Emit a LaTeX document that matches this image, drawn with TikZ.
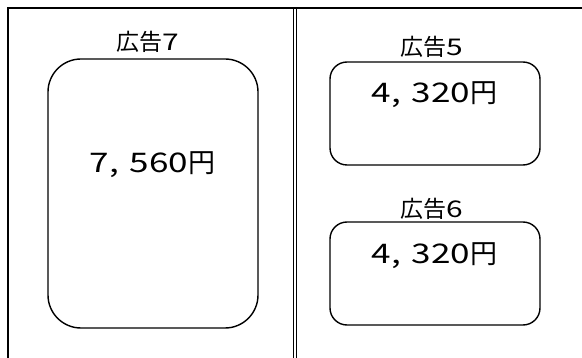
\documentclass[tikz,border=0pt]{standalone}
\usepackage{fontspec}
\newfontfamily\jpfont{Noto Sans CJK JP}
\newfontfamily\numfont[FakeStretch=1.3]{Noto Sans CJK JP}
\usetikzlibrary{positioning}

\tikzset{
  adbox/.style={draw, line width=1.4pt, minimum width=210pt, inner sep=0pt},
  adlabel/.style={font=\fontsize{23}{25}\selectfont, inner sep=0pt, anchor=base},
  adprice/.style={font=\fontsize{27}{30}\selectfont, inner sep=0pt, anchor=base}
}
\newcommand{\adname}[1]{{\jpfont 広告}{\numfont #1}}
\newcommand{\adyen}[2]{{\numfont #1,\hspace{11pt}#2}{\jpfont 円}}

\begin{document}
\begin{tikzpicture}[x=1pt, y=-1pt]
        \useasboundingbox (0,0) rectangle (582,358);
        %
        \draw [line width=1.6pt] (8,358) -- (8,8) -- (582,8);
        \draw [line width=1.2pt] (293.3,8) -- (293.3,358);
        \draw [line width=1.2pt] (296.8,8) -- (296.8,358);
        %
        \node [adbox, rounded corners=33pt, minimum height=269pt] (box7) at (153,193.5) {};
        \node [adbox, rounded corners=17pt, minimum height=103pt] (box5) at (435,113.5) {};
        \node [adbox, rounded corners=17pt, minimum height=103pt] (box6) at (435,273.5) {};
        %
        \node [adlabel] (label7) at (148,51) {\adname{7}};
        \node [adlabel] (label5) at (432,56) {\adname{5}};
        \node [adlabel] (label6) at (432,218) {\adname{6}};
        %
        \node [adprice] (price7) at (152.5,173) {\adyen{7}{560}};
        \node [adprice] (price5) at (434.5,103) {\adyen{4}{320}};
        \node [adprice] (price6) at (434.5,264) {\adyen{4}{320}};
      \end{tikzpicture}
\end{document}
